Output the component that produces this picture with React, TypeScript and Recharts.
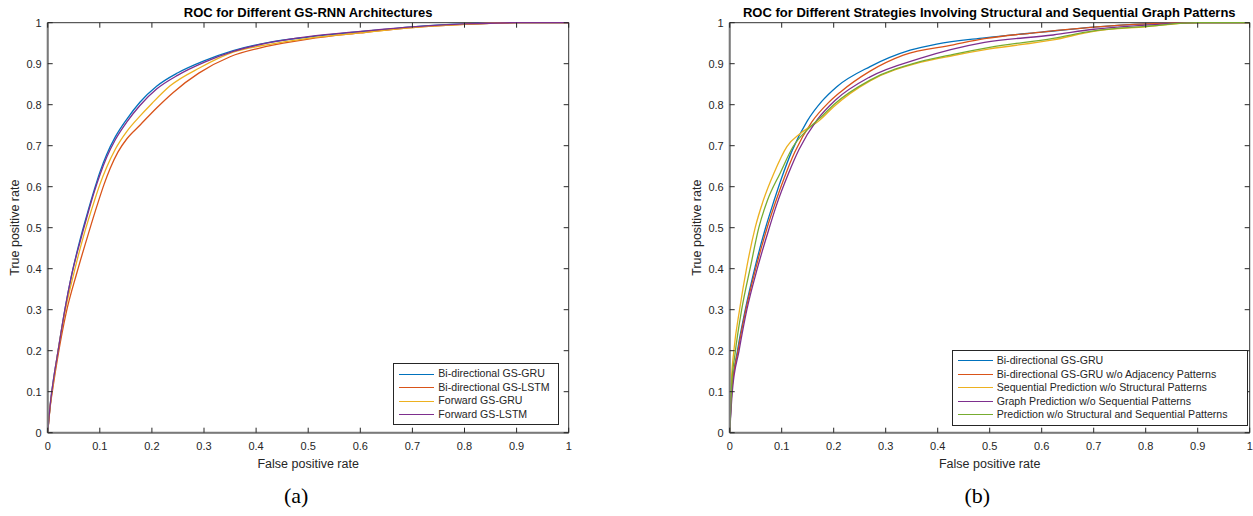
import React from 'react'
import { LineChart, Line, XAxis, YAxis, ReferenceArea, Legend } from 'recharts'

// shared axis ticks (both panels use 0..1 on both axes)
const TICKS = [0, 0.1, 0.2, 0.3, 0.4, 0.5, 0.6, 0.7, 0.8, 0.9, 1]
const TICK_LABELS = ['0', '0.1', '0.2', '0.3', '0.4', '0.5', '0.6', '0.7', '0.8', '0.9', '1']

// MATLAB default line colours
const BLUE = '#0072BD'
const RED = '#D95319'
const YELLOW = '#EDB120'
const PURPLE = '#7E2F8E'
const GREEN = '#77AC30'

// (a) ROC for different GS-RNN architectures
const biGruFprA = [0, 0.005, 0.01, 0.02, 0.033, 0.046, 0.062, 0.075, 0.09, 0.1, 0.113, 0.13, 0.152, 0.177, 0.209, 0.25, 0.3, 0.356, 0.42, 0.5, 0.6, 0.7, 0.8, 0.9, 1]
const biGruTprA = [0, 0.07, 0.12, 0.2, 0.3, 0.385, 0.47, 0.53, 0.595, 0.635, 0.678, 0.722, 0.765, 0.806, 0.845, 0.878, 0.907, 0.932, 0.951, 0.965, 0.978, 0.99, 0.997, 1, 1]
const biLstmFprA = [0, 0.005, 0.01, 0.02, 0.035, 0.056, 0.078, 0.095, 0.108, 0.12, 0.135, 0.152, 0.177, 0.209, 0.241, 0.29, 0.35, 0.42, 0.5, 0.6, 0.7, 0.8, 0.9, 1]
const biLstmTprA = [0, 0.065, 0.11, 0.19, 0.29, 0.39, 0.485, 0.555, 0.605, 0.645, 0.685, 0.717, 0.75, 0.792, 0.83, 0.877, 0.917, 0.942, 0.96, 0.975, 0.988, 0.996, 1, 1]
const fwdGruFprA = [0, 0.005, 0.01, 0.02, 0.034, 0.05, 0.07, 0.089, 0.1, 0.113, 0.13, 0.152, 0.177, 0.2, 0.235, 0.292, 0.356, 0.42, 0.5, 0.6, 0.7, 0.8, 0.9, 1]
const fwdGruTprA = [0, 0.068, 0.115, 0.2, 0.3, 0.388, 0.485, 0.563, 0.605, 0.647, 0.692, 0.735, 0.772, 0.803, 0.846, 0.89, 0.928, 0.946, 0.962, 0.975, 0.988, 0.996, 1, 1]
const fwdLstmFprA = [0, 0.005, 0.01, 0.02, 0.033, 0.046, 0.062, 0.075, 0.09, 0.1, 0.113, 0.13, 0.152, 0.177, 0.209, 0.25, 0.3, 0.356, 0.42, 0.5, 0.6, 0.7, 0.8, 0.9, 1]
const fwdLstmTprA = [0, 0.07, 0.12, 0.2, 0.3, 0.385, 0.465, 0.525, 0.59, 0.628, 0.671, 0.715, 0.758, 0.798, 0.838, 0.872, 0.903, 0.93, 0.95, 0.966, 0.979, 0.99, 0.997, 1, 1]

// (b) ROC for strategies with structural / sequential patterns
const biGruFprB = [0, 0.004, 0.015, 0.03, 0.049, 0.069, 0.085, 0.1, 0.12, 0.149, 0.177, 0.206, 0.27, 0.347, 0.398, 0.49, 0.6, 0.7, 0.8, 0.9, 1]
const biGruTprB = [0, 0.1, 0.2, 0.3, 0.405, 0.5, 0.565, 0.622, 0.688, 0.76, 0.808, 0.844, 0.893, 0.933, 0.948, 0.963, 0.977, 0.989, 0.997, 1, 1]
const noAdjFprB = [0, 0.004, 0.016, 0.031, 0.051, 0.072, 0.088, 0.105, 0.125, 0.158, 0.19, 0.212, 0.27, 0.334, 0.43, 0.49, 0.6, 0.7, 0.8, 0.9, 1]
const noAdjTprB = [0, 0.1, 0.2, 0.3, 0.405, 0.5, 0.562, 0.622, 0.684, 0.758, 0.805, 0.83, 0.882, 0.921, 0.946, 0.961, 0.977, 0.989, 0.997, 1, 1]
const seqOnlyFprB = [0, 0.003, 0.008, 0.019, 0.033, 0.049, 0.065, 0.085, 0.11, 0.136, 0.174, 0.2, 0.27, 0.366, 0.43, 0.5, 0.622, 0.7, 0.8, 0.9, 1]
const seqOnlyTprB = [0, 0.12, 0.2, 0.3, 0.405, 0.5, 0.568, 0.633, 0.698, 0.73, 0.763, 0.795, 0.858, 0.903, 0.92, 0.936, 0.958, 0.979, 0.99, 1, 1]
const graphOnlyFprB = [0, 0.005, 0.018, 0.033, 0.053, 0.075, 0.09, 0.113, 0.133, 0.168, 0.203, 0.27, 0.366, 0.49, 0.622, 0.7, 0.8, 0.9, 1]
const graphOnlyTprB = [0, 0.1, 0.2, 0.3, 0.4, 0.495, 0.555, 0.632, 0.69, 0.763, 0.811, 0.868, 0.913, 0.952, 0.97, 0.984, 0.994, 1, 1]
const noPatternFprB = [0, 0.004, 0.01, 0.023, 0.04, 0.056, 0.073, 0.097, 0.122, 0.15, 0.18, 0.2, 0.27, 0.366, 0.43, 0.5, 0.622, 0.7, 0.8, 0.9, 1]
const noPatternTprB = [0, 0.12, 0.19, 0.3, 0.405, 0.5, 0.568, 0.633, 0.698, 0.74, 0.775, 0.8, 0.86, 0.905, 0.923, 0.94, 0.962, 0.98, 0.991, 1, 1]

const FONT = '"Liberation Sans", Arial, Helvetica, sans-serif'
const INK = '#262626'

// plot box inside each panel svg
const PLOT_LEFT = 47.7
const PLOT_TOP = 22.7
const PLOT_BOTTOM = 432.7
const CHART_H = 516
const Y_AXIS_W = 40
const X_AXIS_H = 40

const toPoints = (fpr: number[], tpr: number[]) => fpr.map((x, i) => ({ fpr: x, tpr: tpr[i] }))

interface Series {
  name: string
  color: string
  fpr: number[]
  tpr: number[]
}

const seriesA: Series[] = [
  { name: 'Bi-directional GS-GRU', color: BLUE, fpr: biGruFprA, tpr: biGruTprA },
  { name: 'Bi-directional GS-LSTM', color: RED, fpr: biLstmFprA, tpr: biLstmTprA },
  { name: 'Forward GS-GRU', color: YELLOW, fpr: fwdGruFprA, tpr: fwdGruTprA },
  { name: 'Forward GS-LSTM', color: PURPLE, fpr: fwdLstmFprA, tpr: fwdLstmTprA },
]

const seriesB: Series[] = [
  { name: 'Bi-directional GS-GRU', color: BLUE, fpr: biGruFprB, tpr: biGruTprB },
  { name: 'Bi-directional GS-GRU w/o Adjacency Patterns', color: RED, fpr: noAdjFprB, tpr: noAdjTprB },
  { name: 'Sequential Prediction w/o Structural Patterns', color: YELLOW, fpr: seqOnlyFprB, tpr: seqOnlyTprB },
  { name: 'Graph Prediction w/o Sequential Patterns', color: PURPLE, fpr: graphOnlyFprB, tpr: graphOnlyTprB },
  { name: 'Prediction w/o Structural and Sequential Patterns', color: GREEN, fpr: noPatternFprB, tpr: noPatternTprB },
]

const labelFor = (v: number) => TICK_LABELS[TICKS.indexOf(v)] ?? String(v)

// legend keeps the plotting order (Recharts would sort it alphabetically)
function LegendBox({ items, width }: { items: Series[]; width: number }) {
  return (
    <div
      style={{
        width,
        boxSizing: 'border-box',
        border: `1px solid ${INK}`,
        background: '#fff',
        padding: '3px 0',
        fontFamily: FONT,
        fontSize: 10.6,
        color: INK,
      }}
    >
      {items.map((item) => (
        <div key={item.name} style={{ display: 'flex', alignItems: 'center', height: 13.5 }}>
          <span style={{ display: 'inline-block', width: 35, marginLeft: 5, borderTop: `1.3px solid ${item.color}` }} />
          <span style={{ marginLeft: 4, whiteSpace: 'nowrap', lineHeight: '13.5px' }}>{item.name}</span>
        </div>
      ))}
    </div>
  )
}

interface PanelProps {
  left: number
  width: number
  plotWidth: number
  title: string
  caption: string
  series: Series[]
  legendLeft: number
  legendTop: number
  legendWidth: number
}

function RocPanel({ left, width, plotWidth, title, caption, series, legendLeft, legendTop, legendWidth }: PanelProps) {
  const plotRight = PLOT_LEFT + plotWidth
  const center = PLOT_LEFT + plotWidth / 2

  // ticks drawn inward on both sides, like MATLAB's "box on"
  const xTick = (p: any) => (
    <g>
      <line x1={p.x} x2={p.x} y1={PLOT_BOTTOM} y2={PLOT_BOTTOM - 5} stroke={INK} strokeWidth={1} />
      <line x1={p.x} x2={p.x} y1={PLOT_TOP} y2={PLOT_TOP + 5} stroke={INK} strokeWidth={1} />
      <text x={p.x} y={PLOT_BOTTOM + 17} textAnchor="middle" fontSize={11} fontFamily={FONT} fill={INK}>
        {labelFor(p.payload.value)}
      </text>
    </g>
  )
  const yTick = (p: any) => (
    <g>
      <line x1={PLOT_LEFT} x2={PLOT_LEFT + 5} y1={p.y} y2={p.y} stroke={INK} strokeWidth={1} />
      <line x1={plotRight} x2={plotRight - 5} y1={p.y} y2={p.y} stroke={INK} strokeWidth={1} />
      <text x={PLOT_LEFT - 6} y={p.y + 4} textAnchor="end" fontSize={11} fontFamily={FONT} fill={INK}>
        {labelFor(p.payload.value)}
      </text>
    </g>
  )

  return (
    <div style={{ position: 'absolute', left, top: 0, width, height: CHART_H }}>
      <div
        style={{
          position: 'absolute',
          left: 0,
          width: center * 2,
          top: 6,
          textAlign: 'center',
          fontFamily: FONT,
          fontWeight: 'bold',
          fontSize: 13,
          lineHeight: '13px',
          color: '#000',
          whiteSpace: 'nowrap',
        }}
      >
        {title}
      </div>
      <LineChart
        width={width}
        height={CHART_H}
        margin={{
          top: PLOT_TOP,
          right: width - plotRight,
          bottom: CHART_H - PLOT_BOTTOM - X_AXIS_H,
          left: PLOT_LEFT - Y_AXIS_W,
        }}
      >
        <ReferenceArea x1={0} x2={1} y1={0} y2={1} fill="none" stroke="#333" strokeWidth={1} ifOverflow="visible" />
        <XAxis
          dataKey="fpr"
          type="number"
          domain={[0, 1]}
          ticks={TICKS}
          interval={0}
          height={X_AXIS_H}
          tickLine={false}
          axisLine={{ stroke: '#7a7a7a', strokeWidth: 2 }}
          tick={xTick}
          label={{ value: 'False positive rate', position: 'insideBottom', offset: 5, fontSize: 12.5, fontFamily: FONT, fill: INK }}
        />
        <YAxis
          type="number"
          domain={[0, 1]}
          ticks={TICKS}
          interval={0}
          width={Y_AXIS_W}
          tickLine={false}
          axisLine={{ stroke: '#7a7a7a', strokeWidth: 2 }}
          tick={yTick}
          label={{
            value: 'True positive rate',
            angle: -90,
            position: 'insideLeft',
            offset: 6.5,
            fontSize: 12.5,
            fontFamily: FONT,
            fill: INK,
            style: { textAnchor: 'middle' },
          }}
        />
        {series.map((s) => (
          <Line
            key={s.name}
            name={s.name}
            data={toPoints(s.fpr, s.tpr)}
            dataKey="tpr"
            type="monotone"
            stroke={s.color}
            strokeWidth={1.3}
            dot={false}
            activeDot={false}
            isAnimationActive={false}
          />
        ))}
        <Legend
          layout="vertical"
          align="center"
          verticalAlign="middle"
          wrapperStyle={{ left: legendLeft, top: legendTop, width: legendWidth, height: 'auto' }}
          content={() => <LegendBox items={series} width={legendWidth} />}
        />
      </LineChart>
      <div
        style={{
          position: 'absolute',
          left: 0,
          width: (center - 12) * 2,
          top: 485,
          textAlign: 'center',
          fontFamily: '"Liberation Serif", "Times New Roman", serif',
          fontSize: 22,
          lineHeight: '22px',
          color: '#000',
        }}
      >
        {caption}
      </div>
    </div>
  )
}

export default function App() {
  return (
    <div style={{ position: 'absolute', left: 0, top: 0, width: 1253, height: 516, background: '#fff' }}>
      <RocPanel
        left={0}
        width={620}
        plotWidth={521}
        title="ROC for Different GS-RNN Architectures"
        caption="(a)"
        series={seriesA}
        legendLeft={393.3}
        legendTop={363.3}
        legendWidth={166}
      />
      <RocPanel
        left={681.6}
        width={571}
        plotWidth={520}
        title="ROC for Different Strategies Involving Structural and Sequential Graph Patterns"
        caption="(b)"
        series={seriesB}
        legendLeft={270.1}
        legendTop={350}
        legendWidth={296}
      />
    </div>
  )
}
